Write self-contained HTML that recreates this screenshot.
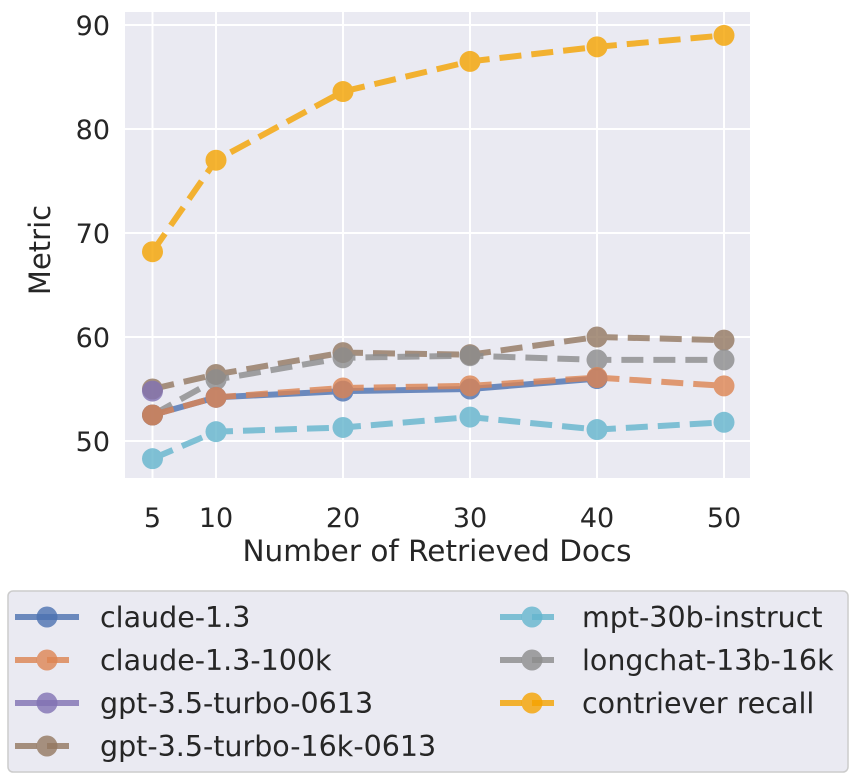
<!DOCTYPE html>
<html><head><meta charset="utf-8"><style>
html,body{margin:0;padding:0;background:#fff;}
svg{display:block;font-family:"DejaVu Sans","Liberation Sans",sans-serif;}
</style></head><body>
<svg id="chart" width="856" height="781" xmlns="http://www.w3.org/2000/svg">
<rect x="125" y="12" width="625" height="466" fill="#eaeaf2"/>
<g id="grid"></g>
<g id="series"></g>
<g id="axes"></g>
<text x="437" y="561" text-anchor="middle" font-size="29.5" fill="#262626">Number of Retrieved Docs</text>
<text transform="translate(50,250) rotate(-90)" text-anchor="middle" font-size="29" fill="#262626">Metric</text>
<rect x="8" y="591" width="840" height="181" rx="5" fill="#eaeaf2" stroke="#cccccc" stroke-width="1.5"/>
<g id="legend"></g>
</svg>
<script>
const xCats=[5,10,20,30,40,50];
const yTicks=[50,60,70,80,90];
const names=["claude-1.3","claude-1.3-100k","gpt-3.5-turbo-0613","gpt-3.5-turbo-16k-0613","mpt-30b-instruct","longchat-13b-16k","contriever recall"];
const claude=[52.5,54.2,54.8,55.0,56.0,null];
const claude100k=[52.5,54.2,55.1,55.3,56.1,55.3];
const gpt35=[54.8,null,null,null,null,null];
const gpt35_16k=[55.0,56.4,58.5,58.3,60.0,59.7];
const mpt=[48.3,50.9,51.3,52.3,51.1,51.8];
const longchat=[52.5,55.9,58.0,58.2,57.8,57.8];
const contriever=[68.2,77.0,83.6,86.5,87.9,89.0];
const NS="http://www.w3.org/2000/svg";
function X(v){return 152.5+(v-5)*12.7;}
function Y(v){return 441-(v-50)*10.4;}
function mk(tag,attrs,parent){const e=document.createElementNS(NS,tag);for(const k in attrs)e.setAttribute(k,attrs[k]);parent.appendChild(e);return e;}
const grid=document.getElementById('grid'),axes=document.getElementById('axes'),ser=document.getElementById('series'),leg=document.getElementById('legend');
xCats.forEach(v=>{
 const l=mk('line',{x1:X(v),x2:X(v),y1:12,y2:478,stroke:'#fff','stroke-width':2},grid);
 
 
 const t=mk('text',{x:X(v),y:527,'text-anchor':'middle','font-size':27,fill:'#262626'},axes);t.textContent=v;
 
 
});
yTicks.forEach(v=>{
 const l=mk('line',{x1:125,x2:750,y1:Y(v),y2:Y(v),stroke:'#fff','stroke-width':2},grid);
 
 
 const t=mk('text',{x:110,y:Y(v)+10,'text-anchor':'end','font-size':27,fill:'#262626'},axes);t.textContent=v;
 
 
});
const series=[
 {d:gpt35_16k,c:'#937860',dash:true},
 {d:longchat,c:'#8c8c8c',dash:true},
 {d:claude,c:'#4c72b0',dash:false},
 {d:claude100k,c:'#dd8452',dash:true},
 {d:gpt35,c:'#8172b3',dash:false},
 {d:mpt,c:'#64b5cd',dash:true},
 {d:contriever,c:'#f5a300',dash:true}
];
const keys=['gpt-3.5-turbo-16k-0613','longchat-13b-16k','claude-1.3','claude-1.3-100k','gpt-3.5-turbo-0613','mpt-30b-instruct','contriever-recall'];
series.forEach((s,i)=>{
 const g=mk('g',{opacity:0.8},ser);
 
 
 const pts=[];s.d.forEach((v,j)=>{if(v!==null)pts.push(X(xCats[j])+','+Y(v));});
 if(pts.length>1){const p=mk('polyline',{points:pts.join(' '),fill:'none',stroke:s.c,'stroke-width':6,'stroke-dasharray':s.dash?'22,10':'none'},g);
  
  }
 s.d.forEach((v,j)=>{if(v===null)return;const c=mk('circle',{cx:X(xCats[j]),cy:Y(v),r:10.5,fill:s.c},g);
  
  });
});
const legColors=['#4c72b0','#dd8452','#8172b3','#937860','#64b5cd','#8c8c8c','#f5a300'];
const legDash=[false,true,false,true,true,true,true];
names.forEach((n,i)=>{
 const col=i<4?0:1,row=i<4?i:i-4;
 const x0=col?500:15,tx=col?582:100,y=617+row*43;
 const g=mk('g',{},leg);
 
 
 mk('line',{x1:x0,x2:x0+64,y1:y,y2:y,stroke:legColors[i],'stroke-width':6,opacity:0.8,'stroke-dasharray':legDash[i]?'22,10':'none'},g);
 mk('circle',{cx:x0+32,cy:y,r:10.5,fill:legColors[i],opacity:0.8},g);
 const t=mk('text',{x:tx,y:y+10,'font-size':28.5,fill:'#262626'},g);t.textContent=n;
});
</script>
</body></html>
